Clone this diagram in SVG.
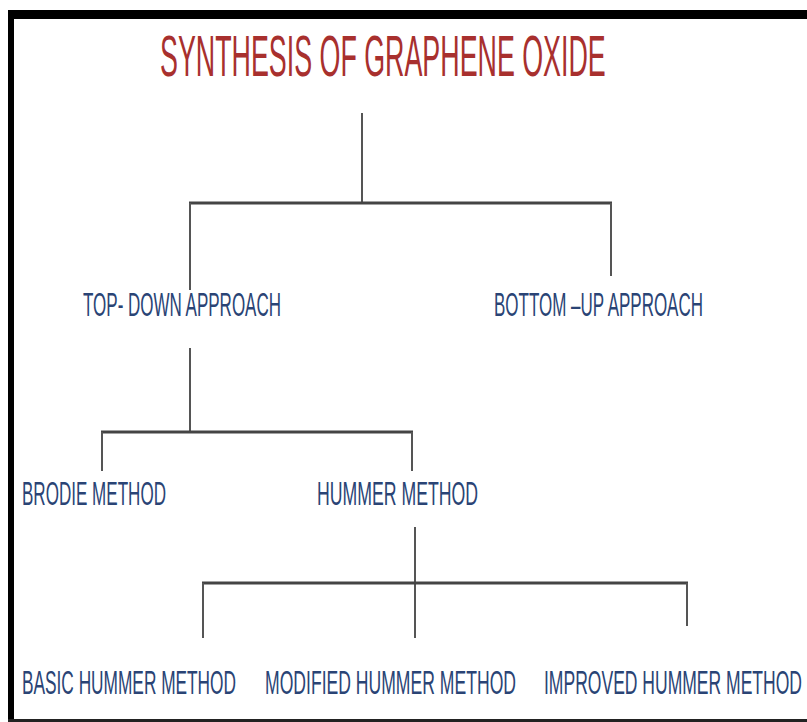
<svg xmlns="http://www.w3.org/2000/svg" width="807" height="722" viewBox="0 0 807 722">
<style>
.lbl{font-family:"Liberation Sans","Open Sans",sans-serif;font-size:34px;fill:#2a4475;}
.title{font-family:"Liberation Sans","Open Sans",sans-serif;font-size:58px;fill:#a8302e;}
.v{stroke:#555;stroke-width:2;fill:none;}
.h{stroke:#444;stroke-width:3;fill:none;}
</style>
<rect x="0" y="0" width="807" height="722" fill="#fff"/>
<g id="frame">
<rect x="8" y="10" width="799" height="9" fill="#000"/>
<rect x="8" y="10" width="6" height="712" fill="#000"/>
<rect x="8" y="719" width="799" height="3" fill="#222"/>
</g>
<g id="connectors">
<line class="v" x1="362" y1="113" x2="362" y2="203"/>
<line class="h" x1="189" y1="203" x2="612" y2="203"/>
<line class="v" x1="190" y1="203" x2="190" y2="290"/>
<line class="v" x1="611" y1="203" x2="611" y2="276"/>
<line class="v" x1="190" y1="348" x2="190" y2="432"/>
<line class="h" x1="101" y1="432" x2="413" y2="432"/>
<line class="v" x1="102" y1="432" x2="102" y2="471"/>
<line class="v" x1="412" y1="432" x2="412" y2="471"/>
<line class="v" x1="415" y1="527" x2="415" y2="638"/>
<line class="h" x1="202" y1="583" x2="688" y2="583"/>
<line class="v" x1="203" y1="583" x2="203" y2="638"/>
<line class="v" x1="687" y1="583" x2="687" y2="626"/>
</g>
<g id="title"><text class="title" transform="translate(160,76) scale(0.46,1)" x="0" y="0" textLength="969" lengthAdjust="spacingAndGlyphs">SYNTHESIS OF GRAPHENE OXIDE</text></g>
<g id="top-down"><text class="lbl" transform="translate(83,316) scale(0.5,1)" x="0" y="0" textLength="396" lengthAdjust="spacingAndGlyphs">TOP- DOWN APPROACH</text></g>
<g id="bottom-up"><text class="lbl" transform="translate(494,316) scale(0.5,1)" x="0" y="0" textLength="418" lengthAdjust="spacingAndGlyphs">BOTTOM –UP APPROACH</text></g>
<g id="brodie"><text class="lbl" transform="translate(22,505) scale(0.5,1)" x="0" y="0" textLength="288" lengthAdjust="spacingAndGlyphs">BRODIE METHOD</text></g>
<g id="hummer"><text class="lbl" transform="translate(317,505) scale(0.5,1)" x="0" y="0" textLength="322" lengthAdjust="spacingAndGlyphs">HUMMER METHOD</text></g>
<g id="basic"><text class="lbl" transform="translate(22,694) scale(0.5,1)" x="0" y="0" textLength="428" lengthAdjust="spacingAndGlyphs">BASIC HUMMER METHOD</text></g>
<g id="modified"><text class="lbl" transform="translate(265,694) scale(0.5,1)" x="0" y="0" textLength="502" lengthAdjust="spacingAndGlyphs">MODIFIED HUMMER METHOD</text></g>
<g id="improved"><text class="lbl" transform="translate(544,694) scale(0.5,1)" x="0" y="0" textLength="516" lengthAdjust="spacingAndGlyphs">IMPROVED HUMMER METHOD</text></g>
</svg>
